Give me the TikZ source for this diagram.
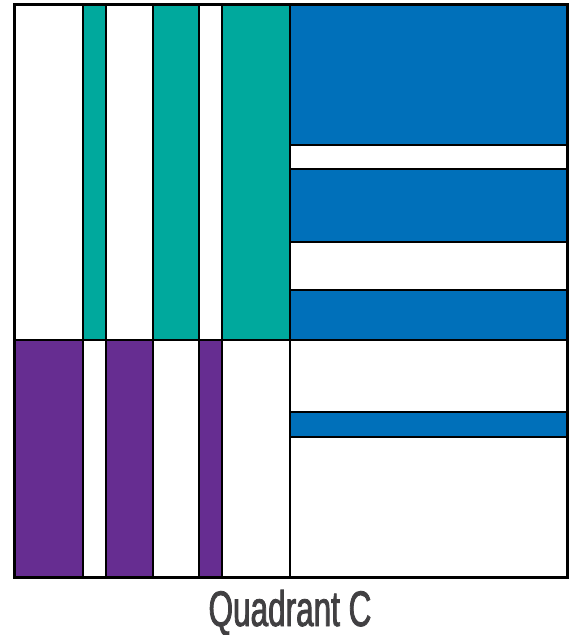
\documentclass[tikz,border=0pt]{standalone}
\usepackage{fontspec}
\newfontfamily\labelfont[FakeStretch=0.63, FakeBold=1.6]{Liberation Sans}
\usepackage{xcolor}
\definecolor{quadteal}{HTML}{00A99D}
\definecolor{quadblue}{HTML}{0070BA}
\definecolor{quadpurple}{HTML}{662D91}
\definecolor{labelgray}{HTML}{414042}
\tikzstyle{cell} = [draw=black, line width=2pt]
\tikzstyle{teal} = [cell, fill=quadteal]
\tikzstyle{blue} = [cell, fill=quadblue]
\tikzstyle{purple} = [cell, fill=quadpurple]
\tikzstyle{blank} = [cell, fill=white]
\tikzstyle{frame} = [draw=black, line width=3pt]

\begin{document}
\begin{tikzpicture}[x=1pt, y=-1pt]
    \useasboundingbox (0,0) rectangle (574,635);
    % upper left columns
    \draw [blank] (14,4) rectangle (83,340);
    \draw [teal] (83,4) rectangle (106,340);
    \draw [blank] (106,4) rectangle (153,340);
    \draw [teal] (153,4) rectangle (199,340);
    \draw [blank] (199,4) rectangle (222,340);
    \draw [teal] (222,4) rectangle (290,340);
    % lower left columns
    \draw [purple] (14,340) rectangle (83,577);
    \draw [blank] (83,340) rectangle (106,577);
    \draw [purple] (106,340) rectangle (153,577);
    \draw [blank] (153,340) rectangle (199,577);
    \draw [purple] (199,340) rectangle (222,577);
    \draw [blank] (222,340) rectangle (290,577);
    % right bands
    \draw [blue] (290,4) rectangle (567,145);
    \draw [blank] (290,145) rectangle (567,169);
    \draw [blue] (290,169) rectangle (567,242);
    \draw [blank] (290,242) rectangle (567,290);
    \draw [blue] (290,290) rectangle (567,340);
    \draw [blank] (290,340) rectangle (567,412);
    \draw [blue] (290,412) rectangle (567,437);
    \draw [blank] (290,437) rectangle (567,577);
    \draw [frame] (14,4) rectangle (567,577);

    \node (title) [anchor=base, inner sep=0pt] at (290,626) {\labelfont\fontsize{50}{50}\selectfont\color{labelgray}Quadrant C};
\end{tikzpicture}
\end{document}
